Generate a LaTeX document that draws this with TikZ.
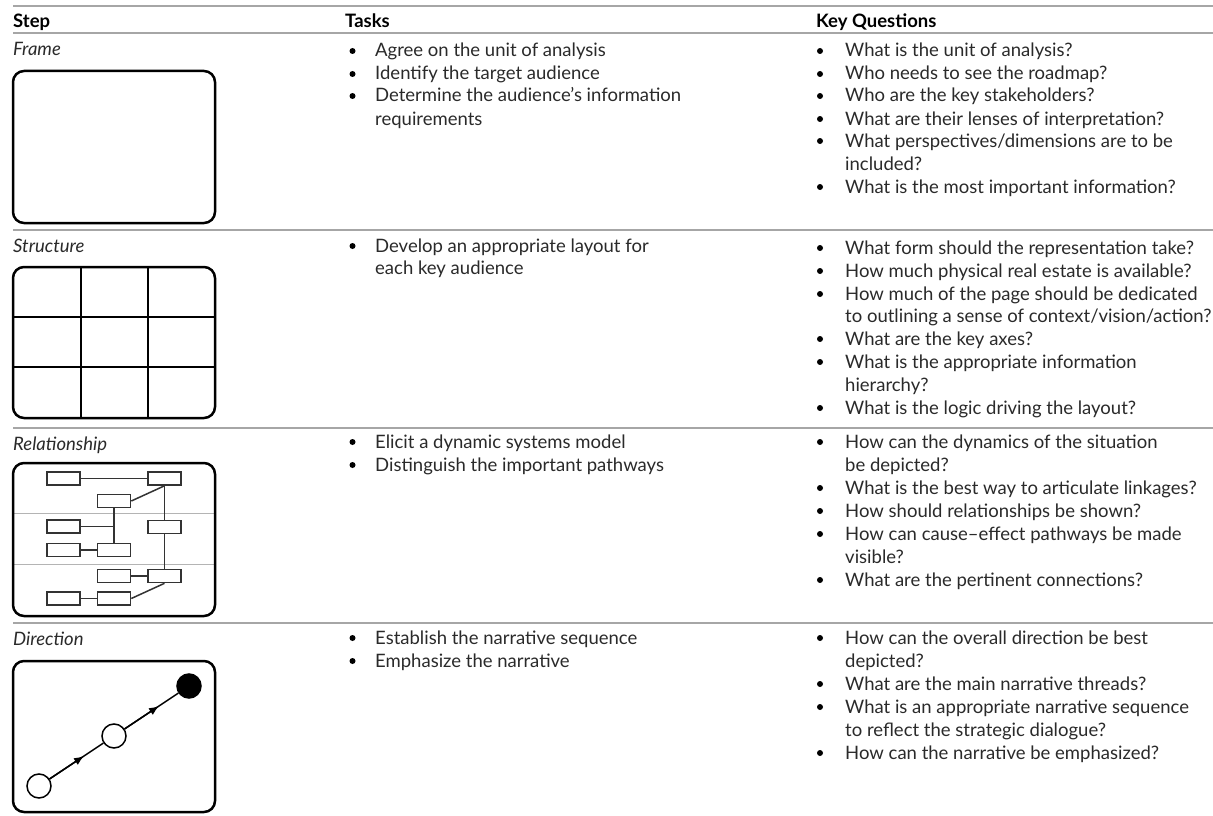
\documentclass[tikz,border=0pt]{standalone}
\usepackage{fontspec}
\setmainfont{Lato}
\usetikzlibrary{calc,arrows.meta}
\definecolor{rulegray}{HTML}{A6A6A6}
\definecolor{textgray}{HTML}{2A2A2A}
\definecolor{lanegray}{HTML}{B4B4B4}
\newcommand\bodyfont{\fontsize{18.5}{22}\selectfont}
% bullet item: name, bullet x, text x, baseline y, text
\newcommand\bul[5]{%
  \node[dot] (#1b) at (#2,#4-6) {};
  \node[txt] (#1) at (#3,#4) {#5};}
% continuation line of an item: name, text x, baseline y, text
\newcommand\cont[4]{\node[txt] (#1) at (#2,#3) {#4};}
\tikzset{
  txt/.style={anchor=base west, inner sep=0pt, font=\bodyfont, text=textgray},
  hdr/.style={anchor=base west, inner sep=0pt, font=\bodyfont\bfseries, text=black},
  steplbl/.style={anchor=base west, inner sep=0pt, font=\bodyfont\itshape, text=textgray},
  rule/.style={draw=rulegray, line width=2pt},
  iconframe/.style={draw=black, line width=2.5pt, rounded corners=11pt},
  gridline/.style={draw=black, line width=1.9pt},
  lane/.style={draw=lanegray, line width=1pt},
  mini/.style={draw=black!80, line width=1.6pt, minimum width=33pt, minimum height=13pt, inner sep=0pt, fill=white},
  link/.style={draw=black!80, line width=1.5pt},
  dot/.style={circle, fill=black, minimum size=6pt, inner sep=0pt},
  stop/.style={circle, draw=black, line width=1.5pt, minimum size=24pt, inner sep=0pt, fill=white},
  flow/.style={draw=black, line width=1.5pt, -{Latex[length=10pt,width=8pt]}},
}
\begin{document}
\begin{tikzpicture}[x=1pt,y=-1pt]
\useasboundingbox (0,0) rectangle (1213,816);
\clip (0,0) rectangle (1213,816);
\fill[white] (0,0) rectangle (1213,816);

% table rules
\coordinate (r0l) at (13,6);   \coordinate (r0r) at (1213,6);
\coordinate (r1l) at (13,33);  \coordinate (r1r) at (1213,33);
\coordinate (r2l) at (13,230); \coordinate (r2r) at (1213,230);
\coordinate (r3l) at (13,428); \coordinate (r3r) at (1213,428);
\coordinate (r4l) at (13,623); \coordinate (r4r) at (1213,623);
\foreach \i in {0,...,4} \draw[rule] (r\i l) -- (r\i r);

% column heads
\node[hdr] (hstep) at (13,28) {Step};
\node[hdr] (htask) at (345,28) {Tasks};
\node[hdr] (hkq) at (816,28) {Key Questions};

% ---------- Frame ----------
\node[steplbl] (sframe) at (13,56) {Frame};
\draw[iconframe] (13,71) rectangle (215,223);

\bul{tf1}{352.5}{375}{57}{Agree on the unit of analysis}
\bul{tf2}{352.5}{375}{80}{Identify the target audience}
\bul{tf3}{352.5}{375}{102}{Determine the audience’s information}
\cont{tf3c}{375}{125}{requirements}

\bul{kf1}{820}{845}{57}{What is the unit of analysis?}
\bul{kf2}{820}{845}{80}{Who needs to see the roadmap?}
\bul{kf3}{820}{845}{102}{Who are the key stakeholders?}
\bul{kf4}{820}{845}{125}{What are their lenses of interpretation?}
\bul{kf5}{820}{845}{147}{What perspectives/dimensions are to be}
\cont{kf5c}{845}{170}{included?}
\bul{kf6}{820}{845}{193}{What is the most important information?}

% ---------- Structure ----------
\node[steplbl] (sstruct) at (13,252) {Structure};
\draw[gridline] (81,267) -- (81,418);
\draw[gridline] (148,267) -- (148,418);
\draw[gridline] (13,317) -- (215,317);
\draw[gridline] (13,367) -- (215,367);
\draw[iconframe] (13,267) rectangle (215,418);

\bul{ts1}{352.5}{375}{252}{Develop an appropriate layout for}
\cont{ts1c}{375}{274}{each key audience}

\bul{ks1}{820}{845}{254}{What form should the representation take?}
\bul{ks2}{820}{845}{277}{How much physical real estate is available?}
\bul{ks3}{820}{845}{300}{How much of the page should be dedicated}
\cont{ks3c}{845}{322}{to outlining a sense of context/vision/action?}
\bul{ks4}{820}{845}{345}{What are the key axes?}
\bul{ks5}{820}{845}{368}{What is the appropriate information}
\cont{ks5c}{845}{391}{hierarchy?}
\bul{ks6}{820}{845}{414}{What is the logic driving the layout?}

% ---------- Relationship ----------
\node[steplbl] (srel) at (13,450) {Relationship};
\draw[lane] (13,513) -- (215,513);
\draw[lane] (13,564) -- (215,564);
\draw[iconframe] (13,463) rectangle (215,616);
\node[mini] (ma) at (63.5,478.5) {};
\node[mini] (mb) at (164.5,478.5) {};
\node[mini] (mc) at (114,501) {};
\node[mini] (md) at (63.5,526.5) {};
\node[mini] (me) at (164.5,527) {};
\node[mini] (mf) at (63.5,550) {};
\node[mini] (mg) at (114,550) {};
\node[mini] (mh) at (114,576) {};
\node[mini] (mi) at (164.5,576) {};
\node[mini] (mj) at (63.5,598.5) {};
\node[mini] (mk) at (114,598.5) {};
\coordinate (jd) at (114,526.5);
\draw[link] (ma.east) -- (mb.west);
\draw[link] (mc.east) -- (mb.south);
\draw[link] (mb.south) -- (me.north);
\draw[link] (me.south) -- (mi.north);
\draw[link] (mc.south) -- (mg.north);
\draw[link] (md.east) -- (jd);
\draw[link] (mf.east) -- (mg.west);
\draw[link] (mh.east) -- (mi.west);
\draw[link] (mi.south) -- (mk.east);
\draw[link] (mj.east) -- (mk.west);

\bul{tr1}{352.5}{375}{448}{Elicit a dynamic systems model}
\bul{tr2}{352.5}{375}{471}{Distinguish the important pathways}

\bul{kr1}{820}{845}{448}{How can the dynamics of the situation}
\cont{kr1c}{845}{471}{be depicted?}
\bul{kr2}{820}{845}{494}{What is the best way to articulate linkages?}
\bul{kr3}{820}{845}{517}{How should relationships be shown?}
\bul{kr4}{820}{845}{540}{How can cause–effect pathways be made}
\cont{kr4c}{845}{563}{visible?}
\bul{kr5}{820}{845}{586}{What are the pertinent connections?}

% ---------- Direction ----------
\node[steplbl] (sdir) at (13,645) {Direction};
\draw[iconframe] (13,661) rectangle (215,812);
\node[stop] (d1) at (39,786) {};
\node[stop] (d2) at (114,736) {};
\node[stop, fill=black] (d3) at (189,686) {};
\draw[link, black] (d1) -- (d2);
\draw[link, black] (d2) -- (d3);
\draw[flow] (d1) -- ($(d1)!0.6!(d2)$);
\draw[flow] (d2) -- ($(d2)!0.6!(d3)$);

\bul{td1}{352.5}{375}{644}{Establish the narrative sequence}
\bul{td2}{352.5}{375}{667}{Emphasize the narrative}

\bul{kd1}{820}{845}{644}{How can the overall direction be best}
\cont{kd1c}{845}{667}{depicted?}
\bul{kd2}{820}{845}{690}{What are the main narrative threads?}
\bul{kd3}{820}{845}{713}{What is an appropriate narrative sequence}
\cont{kd3c}{845}{736}{to reflect the strategic dialogue?}
\bul{kd4}{820}{845}{759}{How can the narrative be emphasized?}
\end{tikzpicture}
\end{document}
